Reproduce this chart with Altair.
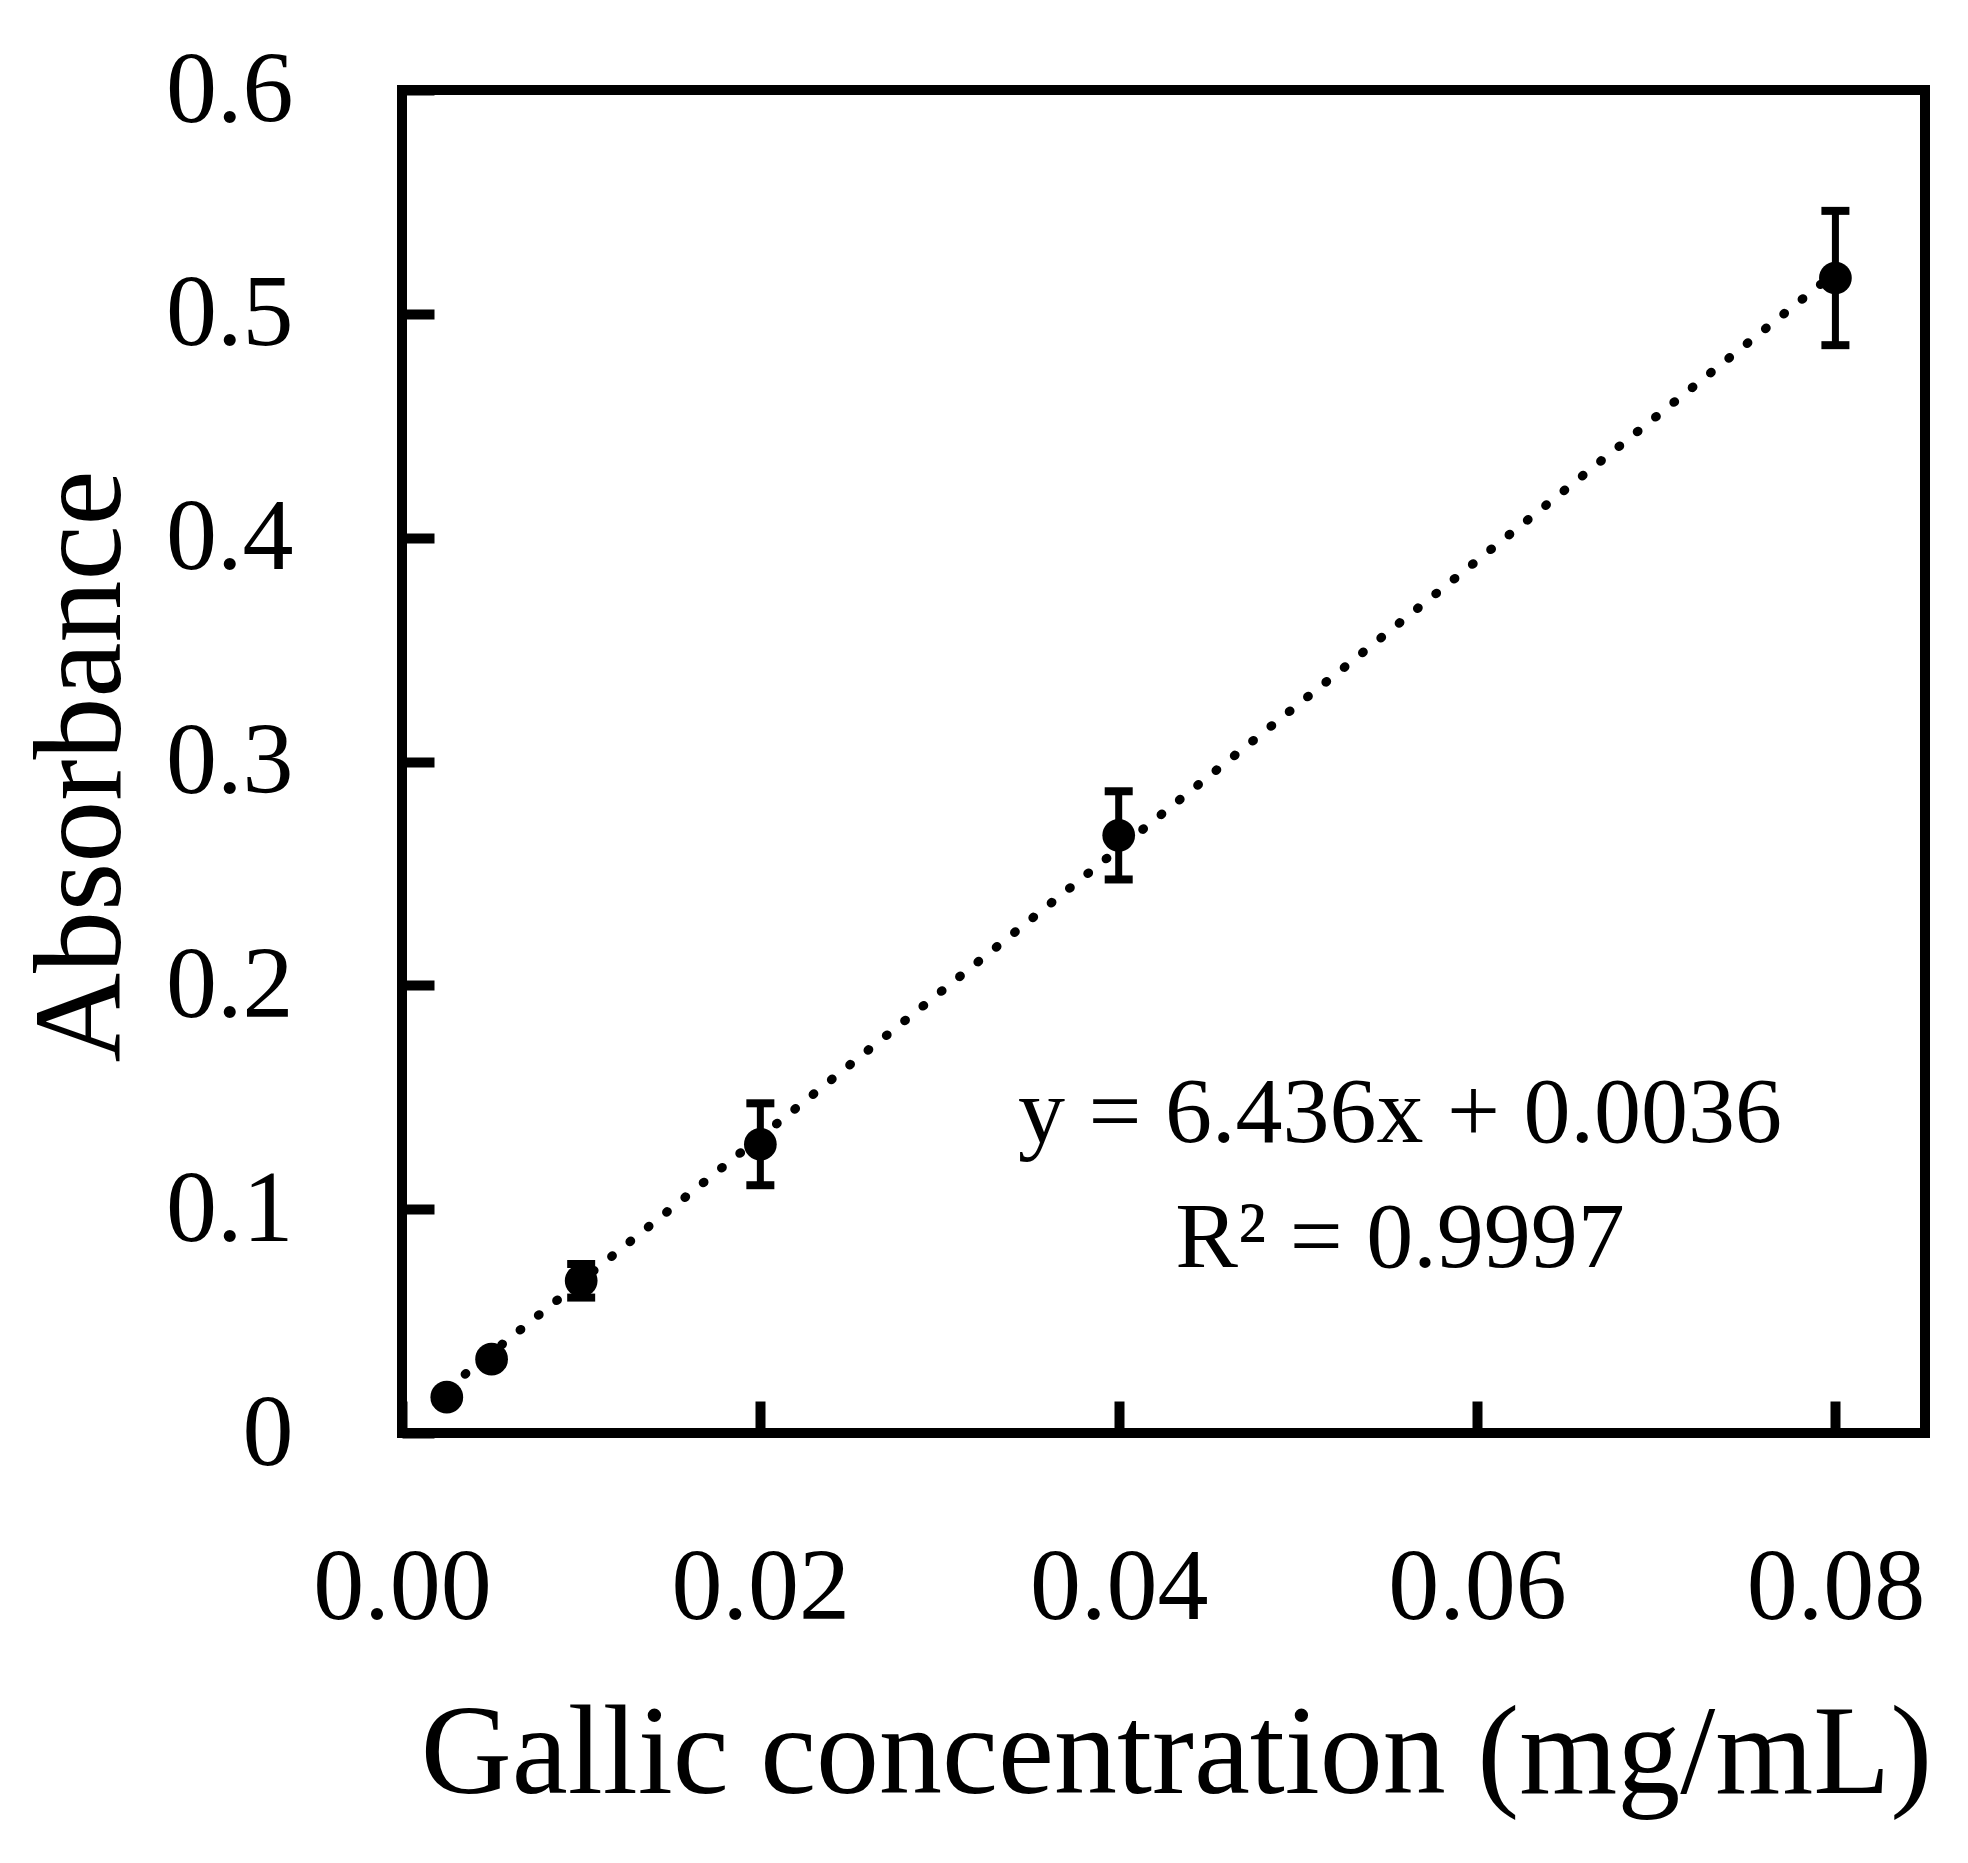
import altair as alt
import pandas as pd

# Data
conc = [0.0025, 0.005, 0.01, 0.02, 0.04, 0.08]
absorb = [0.016, 0.033, 0.068, 0.129, 0.267, 0.516]
err = [0.002, 0.002, 0.0075, 0.0183, 0.0197, 0.030]

slope = 6.436
intercept = 0.0036
fit_x = [0.0025, 0.08]

x_ticks = [0.0, 0.02, 0.04, 0.06, 0.08]
y_ticks = [0.0, 0.1, 0.2, 0.3, 0.4, 0.5, 0.6]

eq_text = ["y = 6.436x + 0.0036", "R\u00b2 = 0.9997"]
eq_x = [0.0557, 0.0557]
eq_y = [0.130, 0.0742]

FONT = "Liberation Serif"

df = pd.DataFrame({
    "x": conc,
    "y": absorb,
    "lo": [a - e for a, e in zip(absorb, err)],
    "hi": [a + e for a, e in zip(absorb, err)],
})
fit = pd.DataFrame({"x": fit_x, "y": [slope * v + intercept for v in fit_x]})
ann = pd.DataFrame({"x": eq_x, "y": eq_y, "t": eq_text})

xscale = alt.Scale(domain=[0, 0.085], nice=False, zero=False)
yscale = alt.Scale(domain=[0, 0.6], nice=False, zero=False)

xaxis = alt.Axis(
    values=x_ticks, format=".2f", domain=False, grid=False,
    ticks=True, tickSize=32, tickWidth=10, tickColor="black", offset=-32,
    labelFont=FONT, labelFontSize=102, labelColor="black",
    labelBaseline="alphabetic", labelPadding=185, labelFlush=False, labelOverlap=False,
    title="Gallic concentration (mg/mL)", titleFont=FONT, titleFontSize=126,
    titleFontWeight="normal", titleColor="black", titleBaseline="alphabetic",
    titleAlign="center", titleX=774, titleY=391,
)
yaxis = alt.Axis(
    values=y_ticks, format=".1~f", domain=False, grid=False,
    ticks=True, tickSize=32, tickWidth=10, tickColor="black", offset=-32,
    labelFont=FONT, labelFontSize=102, labelColor="black",
    labelBaseline="middle", labelPadding=109, labelFlush=False, labelOverlap=False,
    title="Absorbance", titleFont=FONT, titleFontSize=124,
    titleFontWeight="normal", titleColor="black", titleBaseline="alphabetic",
    titleAlign="center", titleAngle=270, titleX=-315, titleY=676,
)

line = alt.Chart(fit).mark_line(
    color="black", strokeWidth=9, strokeCap="round", strokeDash=[1, 22.5]
).encode(
    x=alt.X("x:Q", scale=xscale, axis=xaxis),
    y=alt.Y("y:Q", scale=yscale, axis=yaxis),
)

bars = alt.Chart(df).mark_rule(color="black", strokeWidth=7, opacity=1).encode(
    x=alt.X("x:Q", scale=xscale),
    y=alt.Y("lo:Q", scale=yscale),
    y2="hi:Q",
)
cap_lo = alt.Chart(df).mark_tick(
    color="black", orient="horizontal", size=28, thickness=8, opacity=1
).encode(x=alt.X("x:Q", scale=xscale), y=alt.Y("lo:Q", scale=yscale))
cap_hi = alt.Chart(df).mark_tick(
    color="black", orient="horizontal", size=28, thickness=8, opacity=1
).encode(x=alt.X("x:Q", scale=xscale), y=alt.Y("hi:Q", scale=yscale))

points = alt.Chart(df).mark_circle(color="black", opacity=1, size=1070).encode(
    x=alt.X("x:Q", scale=xscale),
    y=alt.Y("y:Q", scale=yscale),
)

text = alt.Chart(ann).mark_text(
    font=FONT, fontSize=94, color="black", align="center", baseline="alphabetic"
).encode(
    x=alt.X("x:Q", scale=xscale),
    y=alt.Y("y:Q", scale=yscale),
    text="t:N",
)

chart = alt.layer(line, bars, cap_lo, cap_hi, points, text).properties(
    width=1523,
    height=1343,
    autosize=alt.AutoSizeParams(type="none"),
    padding={"left": 394, "top": 82, "right": 30, "bottom": 400},
    background="white",
).configure_view(
    stroke="black", strokeWidth=10
)

chart.save("out.html", embed_options={"renderer": "svg", "actions": False})
